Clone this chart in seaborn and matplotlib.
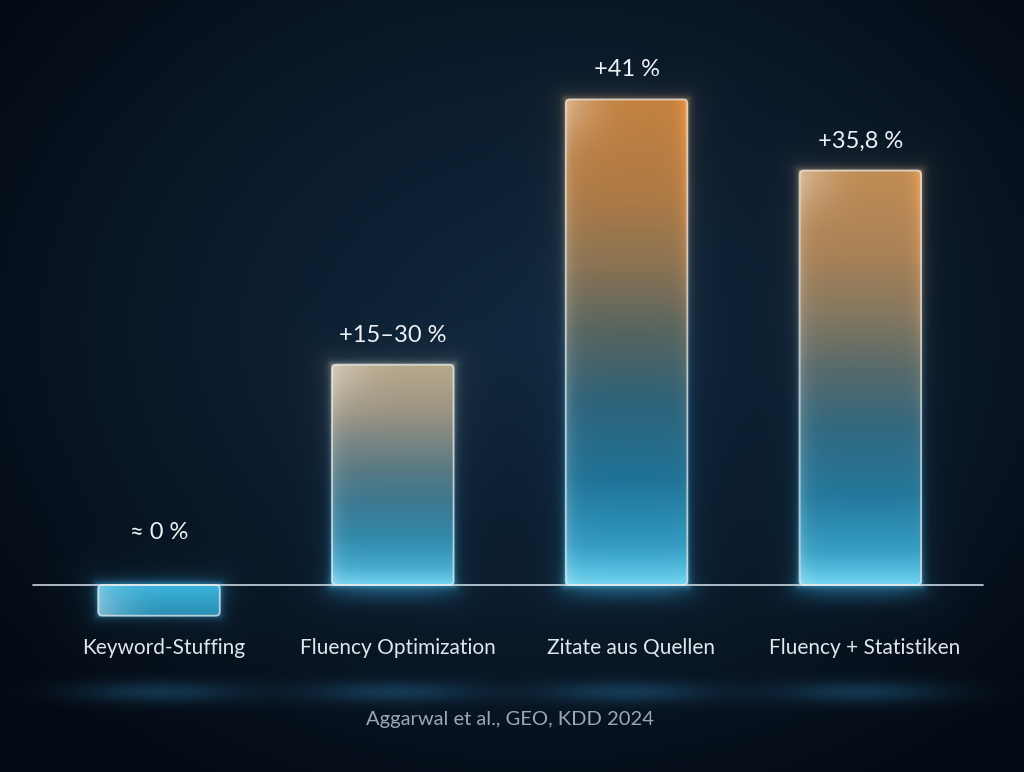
import numpy as np
import pandas as pd
import seaborn as sns
import matplotlib.pyplot as plt
from matplotlib.patches import FancyBboxPatch
from matplotlib.colors import to_rgb

# Daten
categories = ['Keyword-Stuffing', 'Fluency Optimization', 'Zitate aus Quellen', 'Fluency + Statistiken']
values = [-2.6, 18.6, 41.0, 35.0]
value_labels = ['≈ 0 %', '+15–30 %', '+41 %', '+35,8 %']
source = 'Aggarwal et al., GEO, KDD 2024'

W, H, DPI = 1024, 772, 100

sns.set_theme(style='white')
plt.rcParams['font.family'] = ['Lato', 'DejaVu Sans']

fig = plt.figure(figsize=(W / DPI, H / DPI), dpi=DPI)
ax = fig.add_axes([0, 0, 1, 1])
df = pd.DataFrame({'Methode': categories, 'Wert': values})
sns.barplot(data=df, x='Methode', y='Wert', ax=ax, width=0.52, color='#3aa9cf',
            saturation=1, errorbar=None)
ax.set_xlim(-0.68, 3.70)
ax.set_ylim(-15.8, 49.4)
ax.set_axis_off()
xlim, ylim = ax.get_xlim(), ax.get_ylim()


def rgb(c):
    return np.array(to_rgb(c))


def to_px(x, y):
    X, Y = ax.transData.transform((x, y))
    return X, H - Y


def mix(a, b, k):
    return rgb(a) * (1 - k) + rgb(b) * k


hmax = max(abs(v) for v in values)


def stops_for(v):
    # farbverlauf unten (t=0) -> oben (t=1)
    if v <= 0:
        return [0, 1], [rgb('#3ab4dc'), rgb('#2a8cb2')]
    k = np.clip((v / hmax - 0.45) / 0.55, 0, 1)
    ts = [0.0, 0.08, 0.22, 0.38, 0.52, 0.66, 0.8, 1.0]
    cols = [rgb('#4ac6ea'), mix('#35a2c8', '#2f98c0', k), mix('#2f86a8', '#1f7296', k),
            mix('#3d7890', '#2e6279', k), mix('#587a84', '#566460', k),
            mix('#7c8683', '#8a7352', k), mix('#9e9684', '#ad7a46', k),
            mix('#b8a98c', '#c3813f', k)]
    return ts, cols


def colors_at(ts, cols, t):
    cols = np.array(cols)
    return np.stack([np.interp(t, ts, cols[:, i]) for i in range(3)], axis=-1)


# Hintergrund
yy, xx = np.mgrid[0:H, 0:W] + 0.5
r = np.sqrt(((xx - 540) / 680) ** 2 + ((yy - 330) / 540) ** 2)
t = np.clip(r, 0, 1)[..., None] ** 1.2
img = rgb('#10273d') * (1 - t) + rgb('#040a13') * t

for p, v in zip(ax.patches, values):
    bb = p.get_bbox()
    cl, rt = to_px(bb.xmin, bb.ymax)
    cr, rb = to_px(bb.xmax, bb.ymin)
    ts, cols = stops_for(v)
    dx = np.maximum(np.maximum(cl - xx, xx - cr), 0)
    dy = np.maximum(np.maximum(rt - yy, yy - rb), 0)
    d = np.hypot(dx, dy)
    if v > 0:
        rel = np.clip((rb - yy) / (rb - rt), 0, 1)
    else:
        rel = np.clip((yy - rt) / (rb - rt), 0, 1)
    gc = colors_at(ts, cols, rel)
    glow = (0.45 * np.exp(-d / 3.0) + 0.10 * np.exp(-d / 15))[..., None]
    img = img + gc * glow
    # Reflexion unter der Grundlinie
    cx = (cl + cr) / 2
    _, base = to_px(0, 0)
    refl = np.exp(-((xx - cx) / ((cr - cl) * 0.5)) ** 4 - ((yy - base - 6) / 12) ** 2)
    img = img + rgb('#1d5f80')[None, None, :] * (0.3 * refl)[..., None]
    # Lichtfleck unter den Beschriftungen
    blob = np.exp(-((xx - cx) / 85) ** 2 - ((yy - 692) / 11) ** 2)
    img = img + rgb('#1f5c7a')[None, None, :] * (0.4 * blob)[..., None]

ax.imshow(np.clip(img, 0, 1), extent=(xlim[0], xlim[1], ylim[0], ylim[1]),
          aspect='auto', zorder=0, interpolation='bilinear')

# Balken mit Verlauf
aspect = (W / (xlim[1] - xlim[0])) / (H / (ylim[1] - ylim[0]))
for p, v in zip(ax.patches, values):
    bb = p.get_bbox()
    p.set_visible(False)
    x0, x1, y0, y1 = bb.xmin, bb.xmax, bb.ymin, bb.ymax
    box = FancyBboxPatch((x0, y0), x1 - x0, y1 - y0,
                         boxstyle='round,pad=0,rounding_size=0.018',
                         mutation_aspect=aspect, facecolor='none',
                         edgecolor=(0.95, 0.96, 0.95, 0.7), lw=1.3, zorder=3)
    ax.add_patch(box)
    ts, cols = stops_for(v)
    n, m = 300, 80
    tt = np.linspace(1, 0, n)[:, None] * np.ones((1, m))
    if v <= 0:
        tt = 1 - tt
    uu = np.ones((n, 1)) * np.linspace(0, 1, m)[None, :]
    g = colors_at(ts, cols, tt)
    hpx = abs(y1 - y0) * H / (ylim[1] - ylim[0])
    hl = 0.18 * np.exp(-uu / 0.06) + 0.25 * np.exp(-(uu / 0.3) ** 2 - ((1 - tt) * hpx / 40) ** 2)
    if v > 0:
        hl = hl + 0.25 * np.exp(-tt * hpx / 18)
    g = g + (1 - g) * hl[..., None]
    if v > 20:
        g = g + rgb('#ff7a30') * (0.22 * np.exp(-(1 - uu) / 0.05) * tt)[..., None]
    im = ax.imshow(np.clip(g, 0, 1), extent=(x0, x1, y0, y1), aspect='auto',
                   zorder=2, interpolation='bilinear')
    im.set_clip_path(box)

ax.axhline(0, xmin=0.032, xmax=0.96, color='#c9d7e3', lw=1.2, zorder=2.5)

# Beschriftungen
for i, (v, lab) in enumerate(zip(values, value_labels)):
    y = max(v, 0) + 2.5 + (1.9 if v <= 0 else 0)
    ax.text(i, y, lab, ha='center', va='center', fontsize=17, color='#eef2f6', zorder=4)
    ax.text(i + 0.02, -5.3, categories[i], ha='center', va='center', fontsize=15,
            color='#dfe6ec', zorder=4)

ax.text((len(categories) - 1) / 2, -11.4, source, ha='center', va='center',
        fontsize=14.5, color='#9aa7b6', zorder=4)

ax.set_xlim(xlim)
ax.set_ylim(ylim)
fig.savefig('out.png', dpi=DPI)
